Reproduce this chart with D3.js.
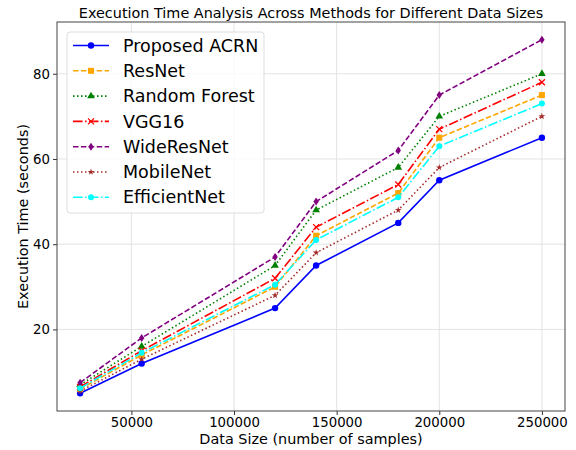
<!DOCTYPE html>
<html>
<head>
<meta charset="utf-8">
<script src="https://cdn.jsdelivr.net/npm/d3@7"></script>
<style>
  body { margin: 0; background: #fff; }
  svg { font-family: "DejaVu Sans", sans-serif; }
</style>
</head>
<body>
<div id="chart"></div>
<script>
// data
var dataSizes = [25000, 55000, 120000, 140000, 180000, 200000, 250000];
var methods = ['Proposed ACRN', 'ResNet', 'Random Forest', 'VGG16', 'WideResNet', 'MobileNet', 'EfficientNet'];
var acrn = [5, 12, 25, 35, 45, 55, 65];
var resnet = [6, 14, 30, 42, 52, 65, 75];
var randomForest = [7, 16, 35, 48, 58, 70, 80];
var vgg16 = [6.5, 15, 32, 44, 54, 67, 78];
var wideResNet = [7.5, 18, 37, 50, 62, 75, 88];
var mobileNet = [5.5, 13, 28, 38, 48, 58, 70];
var efficientNet = [6.2, 14.5, 30.5, 41, 51, 63, 73];
var xTicks = [50000, 100000, 150000, 200000, 250000];
var yTicks = [20, 40, 60, 80];

var values = [acrn, resnet, randomForest, vgg16, wideResNet, mobileNet, efficientNet];
var colors = ['#0000ff', '#ffa500', '#008000', '#ff0000', '#800080', '#a52a2a', '#00ffff'];
var dashes = ['none', '5.5,2.4', '1.5,2.5', '9.6,2.4,1.5,2.4', '5.5,2.4', '1.5,2.5', '9.6,2.4,1.5,2.4'];
var markers = ['circle', 'square', 'triangle', 'x', 'thindiamond', 'star', 'smallcircle'];

var width = 576, height = 450;
var margin = {top: 22, right: 11, bottom: 39, left: 57};
var w = width - margin.left - margin.right,
    h = height - margin.top - margin.bottom;

var svg = d3.select('#chart').append('svg')
    .attr('width', width)
    .attr('height', height);

var xPad = (250000 - 25000) * 0.05,
    yPad = (88 - 5) * 0.05;
var x = d3.scaleLinear().domain([25000 - xPad, 250000 + xPad]).range([0, w]);
var y = d3.scaleLinear().domain([5 - yPad, 88 + yPad]).range([h, 0]);

var g = svg.append('g')
    .attr('transform', 'translate(' + margin.left + ',' + margin.top + ')');

// grid
g.append('g').selectAll('line').data(xTicks).enter().append('line')
    .attr('x1', d => x(d)).attr('x2', d => x(d))
    .attr('y1', 0).attr('y2', h)
    .style('stroke', '#e3e3e3').style('stroke-width', 1);
g.append('g').selectAll('line').data(yTicks).enter().append('line')
    .attr('x1', 0).attr('x2', w)
    .attr('y1', d => y(d)).attr('y2', d => y(d))
    .style('stroke', '#e3e3e3').style('stroke-width', 1);

// axes
var xAxis = g.append('g')
    .attr('transform', 'translate(0,' + h + ')')
    .call(d3.axisBottom(x).tickValues(xTicks).tickFormat(d3.format('d')).tickSize(4).tickPadding(3));
var yAxis = g.append('g')
    .call(d3.axisLeft(y).tickValues(yTicks).tickSize(4).tickPadding(3));
[xAxis, yAxis].forEach(function(a) {
    a.select('.domain').remove();
    a.selectAll('line').style('stroke', '#333');
    a.selectAll('text').style('font-size', '13.3px').style('fill', '#000')
        .style('font-family', '"DejaVu Sans", sans-serif');
});

g.append('rect')
    .attr('width', w).attr('height', h)
    .style('fill', 'none').style('stroke', '#444').style('stroke-width', 1);

// markers
function drawMarker(sel, type, color, size) {
    var s = size || 1;
    if (type === 'circle') {
        sel.append('circle').attr('r', 3.2 * s).style('fill', color);
    } else if (type === 'smallcircle') {
        sel.append('circle').attr('r', 3 * s).style('fill', color);
    } else if (type === 'square') {
        sel.append('rect').attr('x', -3 * s).attr('y', -3 * s)
            .attr('width', 6 * s).attr('height', 6 * s).style('fill', color);
    } else if (type === 'triangle') {
        sel.append('path').attr('d', d3.symbol(d3.symbolTriangle, 26 * s * s)).style('fill', color);
    } else if (type === 'x') {
        sel.append('path').attr('d', 'M-3,-3L3,3M-3,3L3,-3')
            .style('stroke', color).style('stroke-width', 1.3).style('fill', 'none');
    } else if (type === 'thindiamond') {
        sel.append('path').attr('d', 'M0,-4L2.7,0L0,4L-2.7,0Z').style('fill', color);
    } else if (type === 'star') {
        sel.append('path').attr('d', d3.symbol(d3.symbolStar, 14)).style('fill', color);
    }
}

var line = d3.line()
    .x(d => x(d[0]))
    .y(d => y(d[1]));

values.forEach(function(vals, i) {
    var pts = dataSizes.map((d, j) => [d, vals[j]]);
    g.append('path')
        .datum(pts)
        .attr('d', line)
        .style('fill', 'none')
        .style('stroke', colors[i])
        .style('stroke-width', 1.6)
        .style('stroke-dasharray', dashes[i]);
    g.append('g').selectAll('g').data(pts).enter().append('g')
        .attr('transform', d => 'translate(' + x(d[0]) + ',' + y(d[1]) + ')')
        .each(function() { drawMarker(d3.select(this), markers[i], colors[i]); });
});

// legend
var legend = g.append('g').attr('transform', 'translate(10,10)');
legend.append('rect')
    .attr('width', 197).attr('height', 181).attr('rx', 3)
    .style('fill', 'rgba(255,255,255,0.8)').style('stroke', '#ddd');
methods.forEach(function(m, i) {
    var row = legend.append('g').attr('transform', 'translate(0,' + (13.5 + i * 25.3) + ')');
    row.append('line')
        .attr('x1', 6).attr('x2', 42)
        .style('stroke', colors[i]).style('stroke-width', 1.6)
        .style('stroke-dasharray', dashes[i]);
    drawMarker(row.append('g').attr('transform', 'translate(24,0)'), markers[i], colors[i]);
    row.append('text')
        .attr('x', 56).attr('dy', '0.35em')
        .style('font-size', '17.5px')
        .text(m);
});

// labels
svg.append('text')
    .attr('x', margin.left + w / 2).attr('y', 17.5)
    .attr('text-anchor', 'middle')
    .style('font-size', '14.4px')
    .text('Execution Time Analysis Across Methods for Different Data Sizes');
svg.append('text')
    .attr('x', margin.left + w / 2).attr('y', 444)
    .attr('text-anchor', 'middle')
    .style('font-size', '14.4px')
    .text('Data Size (number of samples)');
svg.append('text')
    .attr('transform', 'translate(28,' + (margin.top + h / 2) + ') rotate(-90)')
    .attr('text-anchor', 'middle')
    .style('font-size', '14.4px')
    .text('Execution Time (seconds)');
</script>
</body>
</html>
